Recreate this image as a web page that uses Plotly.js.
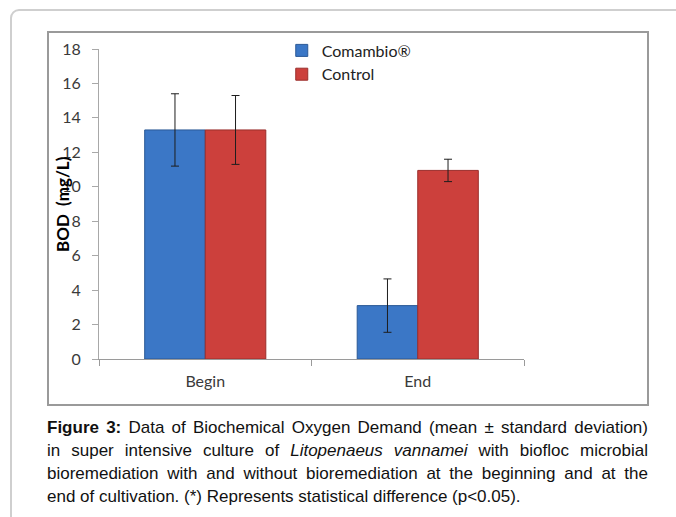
<!DOCTYPE html>
<html>
<head>
<meta charset="utf-8">
<script src="https://cdn.plot.ly/plotly-3.0.1.min.js"></script>
<style>
  html, body { margin: 0; padding: 0; width: 676px; height: 517px; overflow: hidden; background: #fff; }
  #card { position: absolute; left: 10px; top: 9px; width: 720px; height: 600px; border: 2px solid #cfcfcf; border-radius: 9px; box-sizing: border-box; }
  #frame { position: absolute; left: 47px; top: 31px; width: 602px; height: 375px; border: 2px solid #9a9a9a; box-sizing: border-box; }
  #chart { position: absolute; left: 0; top: 0; width: 676px; height: 517px; }
  #caption { position: absolute; left: 47px; top: 416px; width: 601px; font-family: "Liberation Sans", Arial, sans-serif; font-size: 17px; line-height: 23px; color: #111; }
  #caption .ln { text-align: justify; text-align-last: justify; white-space: nowrap; }
  #caption .ln.last { text-align: left; text-align-last: left; }
</style>
</head>
<body>
<div id="card"></div>
<div id="frame"></div>
<div id="chart"></div>
<div id="caption">
  <div class="ln"><b>Figure 3:</b> Data of Biochemical Oxygen Demand (mean ± standard deviation)</div>
  <div class="ln">in super intensive culture of <i>Litopenaeus vannamei</i> with biofloc microbial</div>
  <div class="ln">bioremediation with and without bioremediation at the beginning and at the</div>
  <div class="ln last">end of cultivation. (*) Represents statistical difference (p&lt;0.05).</div>
</div>
<script>
const categories = ['Begin', 'End'];
const comambio = [13.3, 3.1];
const comambioSD = [2.1, 1.55];
const control = [13.3, 10.95];
const controlSD = [2.0, 0.65];
const yTicks = [0, 2, 4, 6, 8, 10, 12, 14, 16, 18];

const tickFont = { family: 'Lato, "Open Sans", sans-serif', size: 16, color: '#3a3a3a' };

const traces = [
  {
    type: 'bar', name: 'Comambio®', x: categories, y: comambio,
    marker: { color: '#3b77c6', line: { color: '#2b5996', width: 1 } },
    error_y: { type: 'data', array: comambioSD, visible: true, color: '#1e1e1e', thickness: 1, width: 4 }
  },
  {
    type: 'bar', name: 'Control', x: categories, y: control,
    marker: { color: '#cc403c', line: { color: '#9a2e2b', width: 1 } },
    error_y: { type: 'data', array: controlSD, visible: true, color: '#1e1e1e', thickness: 1, width: 4 }
  }
];

const layout = {
  width: 676, height: 517,
  margin: { l: 99, r: 152, t: 49, b: 158, pad: 0 },
  paper_bgcolor: 'rgba(0,0,0,0)', plot_bgcolor: 'rgba(0,0,0,0)',
  barmode: 'group', bargap: 0.43, bargroupgap: 0,
  showlegend: true,
  legend: {
    x: 0.43, y: 1.05, xanchor: 'left', yanchor: 'top',
    font: { family: 'Lato, "Open Sans", sans-serif', size: 16, color: '#222' },
    bgcolor: 'rgba(0,0,0,0)', traceorder: 'normal', tracegroupgap: 0
  },
  xaxis: {
    type: 'category', range: [-0.5, 1.5], tickson: 'boundaries',
    ticks: 'outside', ticklen: 6, tickcolor: '#9a9a9a',
    showline: true, linecolor: '#9a9a9a', linewidth: 1,
    showgrid: false, zeroline: false, tickfont: tickFont, ticklabelstandoff: 8,
    fixedrange: true
  },
  yaxis: {
    range: [0, 18], tickvals: yTicks, ticktext: yTicks.map(String),
    ticks: 'outside', ticklen: 6, tickcolor: '#a8a8a8',
    showline: true, linecolor: '#a8a8a8', linewidth: 1,
    showgrid: false, zeroline: false, tickfont: tickFont, ticklabelstandoff: 8,
    fixedrange: true
  },
  annotations: [{
    text: '<b>BOD\u00a0\u00a0(mg/L)</b>', textangle: -90,
    xref: 'paper', yref: 'paper', x: (62 - 99) / 425, y: 0.5,
    xanchor: 'center', yanchor: 'middle', showarrow: false,
    font: { family: 'Lato, "Open Sans", sans-serif', size: 17, color: '#000' }
  }]
};

Plotly.newPlot('chart', traces, layout, { staticPlot: true, displayModeBar: false });
</script>
</body>
</html>
